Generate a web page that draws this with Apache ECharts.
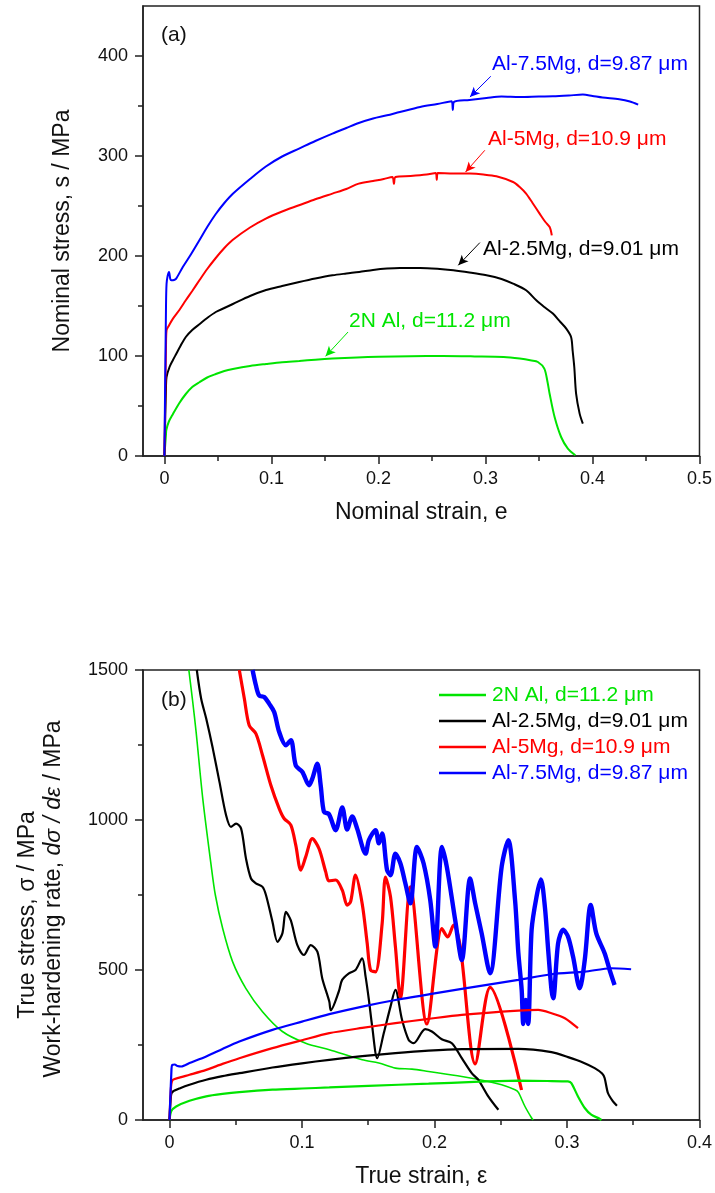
<!DOCTYPE html>
<html><head><meta charset="utf-8">
<script src="https://cdn.jsdelivr.net/npm/echarts@6/dist/echarts.min.js"></script>
<style>html,body{margin:0;padding:0;background:#fff}#c{width:715px;height:1193px}</style>
</head><body><div id="c"></div>
<script>
// ---------- (a) nominal stress-strain curves: [strain, stress MPa] ----------
const a_2N = [[0,0],[0.0015,22],[0.0018,26],[0.004,34],[0.008,42],[0.014,53],[0.020,62],[0.026,69],[0.033,74],[0.040,78.5],[0.048,82],[0.056,85],[0.064,87],[0.080,90],[0.095,92],[0.110,93.8],[0.126,95],[0.141,96.3],[0.157,97.4],[0.18,98.5],[0.20,99.2],[0.23,99.8],[0.26,100],[0.29,99.6],[0.317,99],[0.332,97.4],[0.343,95.5],[0.349,94],[0.355,87.4],[0.358,74],[0.36,62],[0.3646,39],[0.3707,19],[0.377,7.4],[0.384,0.7]];
const a_25Mg = [[0,0],[0.0015,70],[0.002,79],[0.0048,89],[0.008,96],[0.011,102],[0.015,110],[0.020,119],[0.026,126],[0.033,132],[0.040,138],[0.048,144],[0.056,148],[0.064,152],[0.080,160],[0.095,166],[0.110,170],[0.126,174],[0.141,177.5],[0.157,180.7],[0.170,182.5],[0.182,184],[0.195,186],[0.208,187.4],[0.22,188],[0.239,188],[0.255,187.2],[0.27,185.7],[0.285,183.5],[0.301,180.7],[0.315,177],[0.3258,172.4],[0.338,165.7],[0.3475,155.7],[0.355,149],[0.363,142.4],[0.37,134],[0.3755,127.4],[0.38,119],[0.3815,105],[0.383,89],[0.3847,62.4],[0.388,42.4],[0.391,32.4]];
const a_5Mg = [[0,0],[0.0015,110],[0.002,125.7],[0.004,130],[0.008,137.4],[0.014,146],[0.020,155.7],[0.026,165],[0.0327,175.7],[0.040,187],[0.048,198],[0.056,208],[0.0637,216],[0.08,228.5],[0.0948,237.4],[0.11,244.5],[0.1258,250.7],[0.141,256.7],[0.157,262.4],[0.17,267],[0.1816,272.4],[0.195,275],[0.205,277],[0.213,279],[0.2145,272],[0.216,279],[0.23,280],[0.245,281.5],[0.2535,283],[0.2545,276],[0.2555,283],[0.27,282.5],[0.2855,282.4],[0.298,281.5],[0.3102,279.7],[0.3258,274],[0.332,269],[0.338,262.4],[0.344,253],[0.3506,242.4],[0.356,234],[0.36,229],[0.362,220.7]];
const a_75Mg = [[0,0],[0.0015,150],[0.002,172],[0.003,180],[0.0043,184],[0.0055,177],[0.0064,175.7],[0.009,176],[0.011,177.4],[0.0172,189],[0.025,202],[0.0327,215.7],[0.040,229],[0.048,242],[0.056,253],[0.0637,262],[0.08,277],[0.0948,289.5],[0.11,299.5],[0.1258,307.4],[0.141,315],[0.157,322.4],[0.17,328],[0.1816,333],[0.195,337.5],[0.208,340.7],[0.22,344],[0.239,349],[0.255,352],[0.2684,354.7],[0.2695,346],[0.2705,354],[0.285,356],[0.301,358],[0.315,359.5],[0.332,359],[0.35,359.5],[0.363,359.7],[0.378,360.5],[0.391,361.4],[0.40,360],[0.4095,358.4],[0.425,356.7],[0.435,354.5],[0.4427,351.4]];

// ---------- (b) true stress: [true strain, MPa] ----------
const b_2N_stress = [[0,0],[0.0013,29],[0.005,45],[0.0151,64],[0.0277,79],[0.04,87],[0.0527,93],[0.0777,101],[0.1,105],[0.1206,108.5],[0.15,114],[0.1955,121],[0.23,127],[0.2633,131],[0.2850,130],[0.3007,128.5],[0.3033,123],[0.3083,78.5],[0.3134,40],[0.3183,17.6],[0.3246,4.3],[0.326,0]];
const b_25Mg_stress = [[0,0],[0.0012,84],[0.0026,95],[0.008,106],[0.0151,117.5],[0.0277,134],[0.04,146],[0.0527,156],[0.0777,175],[0.1,189],[0.1206,200.7],[0.1455,213],[0.1705,223],[0.1955,231],[0.2206,236],[0.2633,237],[0.2883,226],[0.3008,209.6],[0.312,192],[0.3209,173],[0.3265,155],[0.3284,140],[0.3309,90],[0.3347,62],[0.3377,47.6]];
const b_5Mg_stress = [[0,0],[0.0012,112],[0.0026,134],[0.008,142],[0.0151,150.7],[0.0277,167],[0.04,187],[0.0527,206],[0.0777,239.6],[0.1,266],[0.1206,289.5],[0.1455,307],[0.1705,322.8],[0.1955,337],[0.2206,350.4],[0.2633,364.7],[0.2783,367],[0.2883,356],[0.2984,339.4],[0.3083,306]];
const b_75Mg_stress = [[0,0],[0.0015,170],[0.0021,184],[0.004,185],[0.006,180],[0.0089,178.4],[0.0151,189.7],[0.0277,211.6],[0.04,237],[0.0527,261.6],[0.0777,300.5],[0.1,328],[0.1206,352.7],[0.1455,378],[0.1705,400],[0.2,422],[0.2206,437],[0.2633,467],[0.2883,485.8],[0.3134,494.5],[0.3334,505.8],[0.3484,502.5]];

// ---------- (b) work-hardening rate: [true strain, MPa] ----------
const b_2N_whr = [[0.0146,1500],[0.0175,1395],[0.0201,1293],[0.0251,1071.5],[0.0314,849.6],[0.0346,750],[0.0401,639],[0.0476,528],[0.0576,439],[0.0702,361],[0.0852,295],[0.1028,256],[0.1206,234],[0.1454,200.7],[0.158,189.7],[0.1705,173],[0.183,169.7],[0.1955,161.7],[0.2206,145],[0.2407,128.5],[0.2507,117.5],[0.2608,101],[0.2633,92],[0.2683,45],[0.2733,6.7],[0.2745,0]];
const b_25Mg_whr = [[0.0206,1500],[0.0239,1404],[0.0277,1338],[0.0327,1238],[0.0377,1127],[0.0427,1016],[0.0464,977],[0.0502,988],[0.054,972],[0.0577,872],[0.0615,805],[0.0652,789],[0.0702,777],[0.0728,750],[0.0777,661],[0.0815,594],[0.0852,622],[0.0878,694],[0.0915,666],[0.0965,583],[0.1015,550],[0.1066,583],[0.1116,561],[0.1153,472],[0.1206,395],[0.1217,366],[0.1279,430],[0.1303,467],[0.1354,489],[0.1404,500],[0.1454,539],[0.148,478],[0.1505,400],[0.153,311],[0.1568,206],[0.1617,289],[0.1668,378],[0.1705,434],[0.1755,334],[0.1805,267],[0.1843,256],[0.193,303],[0.198,295],[0.2055,269],[0.2131,256],[0.2206,206],[0.2281,156],[0.2331,134],[0.2407,78],[0.2482,34]];
const b_5Mg_whr = [[0.0527,1500],[0.0565,1404],[0.0602,1315],[0.0652,1288],[0.0702,1216],[0.0765,1116],[0.0828,1038],[0.0865,1005],[0.0916,983],[0.0953,916],[0.0991,833],[0.1028,877],[0.1078,938],[0.1128,905],[0.1179,827],[0.1203,797],[0.1254,800],[0.1304,766],[0.1341,716],[0.1367,728],[0.1404,816],[0.1454,722],[0.1492,589],[0.1517,500],[0.1555,494],[0.1605,655],[0.163,810],[0.1668,744],[0.1705,578],[0.1743,407],[0.1818,777],[0.1943,320],[0.2056,638],[0.21,610],[0.2144,650],[0.2194,580],[0.2307,187],[0.242,442],[0.2657,100]];
const b_75Mg_whr = [[0.0627,1500],[0.0652,1449],[0.0677,1415],[0.0715,1410],[0.0752,1388],[0.079,1360],[0.0828,1293],[0.0878,1249],[0.0916,1266],[0.0953,1182],[0.1003,1160],[0.1053,1116],[0.1078,1138],[0.1116,1188],[0.1141,1116],[0.1166,1027],[0.1203,1020],[0.1254,966],[0.1304,1042],[0.1341,968],[0.1379,1012],[0.1416,972],[0.148,888],[0.1505,933],[0.1555,966],[0.158,922],[0.1605,955],[0.1642,833],[0.1668,816],[0.1705,888],[0.1743,855],[0.178,789],[0.1818,722],[0.1868,910],[0.1918,855],[0.1968,733],[0.2006,578],[0.2056,910],[0.2093,844],[0.2156,667],[0.2206,533],[0.2269,805],[0.2307,722],[0.2356,622],[0.2419,489],[0.2507,844],[0.2557,933],[0.2608,733],[0.2633,556],[0.2658,434],[0.267,320],[0.2688,400],[0.2707,320],[0.2733,634],[0.277,744],[0.2803,802],[0.2833,711],[0.2858,567],[0.2883,434],[0.2896,406],[0.2933,589],[0.2971,634],[0.3008,611],[0.3046,544],[0.3096,439],[0.3134,533],[0.3179,717],[0.3221,622],[0.3284,556],[0.3322,500],[0.3359,450]];

// ---------- labels & ticks ----------
const names = ['2N Al, d=11.2 μm','Al-2.5Mg, d=9.01 μm','Al-5Mg, d=10.9 μm','Al-7.5Mg, d=9.87 μm'];
const colors = ['#00e400','#000000','#ff0000','#0000ff'];
const aXTicks = [0,0.1,0.2,0.3,0.4,0.5];
const aXMinor = [0.05,0.15,0.25,0.35,0.45];
const aYTicks = [0,100,200,300,400];
const aYMinor = [50,150,250,350];
const bXTicks = [0,0.1,0.2,0.3,0.4];
const bXMinor = [0.05,0.15,0.25,0.35];
const bYTicks = [0,500,1000,1500];
const bYMinor = [250,750,1250];
// arrows in (a): [from, to] in data coords
const aArrows = [
  [[0.1716,124],[0.1506,99.7]],
  [[0.2948,213.4],[0.2746,190.7]],
  [[0.2994,305.7],[0.2814,284]],
  [[0.305,379.7],[0.2855,359]]
];

const FONT = "'Liberation Sans', Arial, Helvetica, sans-serif";
const AX = '#222';

function xAx(g, max, ticks, minor, name) {
  return [{
    type:'value', gridIndex:g, min:-0.02, max:max, position:'bottom',
    axisLine:{show:true, onZero:false, lineStyle:{color:AX, width:1.5}},
    axisTick:{show:true, inside:false, length:8, customValues:ticks, lineStyle:{color:AX, width:1.5}},
    axisLabel:{show:true, customValues:ticks, margin:14, fontSize:18, color:'#111', fontFamily:FONT, formatter:v=>String(v)},
    splitLine:{show:false},
    name:name, nameLocation:'middle', nameGap:45,
    nameTextStyle:{fontSize:23, color:'#111', fontFamily:FONT}
  },{
    type:'value', gridIndex:g, min:-0.02, max:max, position:'bottom',
    axisLine:{show:false, onZero:false},
    axisTick:{show:true, inside:false, length:5, customValues:minor, lineStyle:{color:AX, width:1.5}},
    axisLabel:{show:false}, splitLine:{show:false}
  }];
}
function yAx(g, max, ticks, minor) {
  return [{
    type:'value', gridIndex:g, min:0, max:max, position:'left',
    axisLine:{show:true, onZero:false, lineStyle:{color:AX, width:1.5}},
    axisTick:{show:true, inside:false, length:8, customValues:ticks, lineStyle:{color:AX, width:1.5}},
    axisLabel:{show:true, customValues:ticks, margin:15, fontSize:18, color:'#111', fontFamily:FONT, formatter:v=>String(v)},
    splitLine:{show:false}
  },{
    type:'value', gridIndex:g, min:0, max:max, position:'left',
    axisLine:{show:false, onZero:false},
    axisTick:{show:true, inside:false, length:5, customValues:minor, lineStyle:{color:AX, width:1.5}},
    axisLabel:{show:false}, splitLine:{show:false}
  }];
}

const aData = [a_2N, a_25Mg, a_5Mg, a_75Mg];
const bStress = [b_2N_stress, b_25Mg_stress, b_5Mg_stress, b_75Mg_stress];
const bWhr = [b_2N_whr, b_25Mg_whr, b_5Mg_whr, b_75Mg_whr];
const whrWidth = [1.6, 2.2, 3.2, 4.4];

const series = [];
aData.forEach((d,i)=>{
  series.push({
    type:'line', name:'(a) '+names[i], xAxisIndex:0, yAxisIndex:0, data:d,
    showSymbol:false, symbol:'none', color:colors[i], smooth:0.3,
    lineStyle:{color:colors[i], width:2}, clip:true, z:3,
    markLine:{silent:true, symbol:['none','arrow'], symbolSize:[7,10], label:{show:false},
      lineStyle:{color:colors[i], width:1, type:'solid'}, emphasis:{disabled:true},
      data:[[{coord:aArrows[i][0]},{coord:aArrows[i][1]}]]}
  });
});
bStress.forEach((d,i)=>{
  series.push({
    type:'line', name:names[i], xAxisIndex:2, yAxisIndex:2, data:d,
    showSymbol:false, symbol:'none', color:colors[i], smooth:0.25,
    lineStyle:{color:colors[i], width:2.2}, clip:true, z:3
  });
});
bWhr.forEach((d,i)=>{
  series.push({
    type:'line', name:names[i], xAxisIndex:2, yAxisIndex:2, data:d,
    showSymbol:false, symbol:'none', color:colors[i], smooth:0.3,
    lineStyle:{color:colors[i], width:whrWidth[i]}, clip:true, z:2
  });
});

const txt = (text, x, y, color, size, opts={}) => ({
  type:'text', x:x, y:y, rotation:opts.rot||0, z:50, silent:true,
  style:Object.assign({text:text, fill:color, font:(opts.style||'normal')+' '+size+'px '+FONT,
    align:opts.align||'left', verticalAlign:'middle', textAlign:opts.align||'left', textVerticalAlign:'middle'}, opts.extra||{})
});

const option = {
  animation:false,
  backgroundColor:'#fff',
  textStyle:{fontFamily:FONT},
  grid:[
    {left:143, top:6, width:559, height:450, show:true, borderColor:AX, borderWidth:1.5, backgroundColor:'transparent', containLabel:false},
    {left:143, top:670, width:559, height:450, show:true, borderColor:AX, borderWidth:1.5, backgroundColor:'transparent', containLabel:false}
  ],
  xAxis:[...xAx(0,0.5,aXTicks,aXMinor,'Nominal strain, e'), ...xAx(1,0.4,bXTicks,bXMinor,'True strain, ε')],
  yAxis:[...yAx(0,450,aYTicks,aYMinor), ...yAx(1,1500,bYTicks,bYMinor)],
  legend:{
    show:true, orient:'vertical', left:439, top:682, itemWidth:47, itemHeight:2.5, itemGap:0,
    icon:'rect', selectedMode:false, padding:0,
    textStyle:{fontSize:21, fontFamily:FONT, lineHeight:26, padding:[0,0,0,1]},
    data:names.map((n,i)=>({name:n, textStyle:{color:colors[i]}}))
  },
  series:series,
  graphic:[
    txt('(a)', 161, 35, '#111', 21),
    txt('(b)', 161, 700, '#111', 21),
    txt('Al-7.5Mg, d=9.87 μm', 492, 64, colors[3], 21),
    txt('Al-5Mg, d=10.9 μm', 488, 139.5, colors[2], 21),
    txt('Al-2.5Mg, d=9.01 μm', 483, 249.5, colors[1], 21),
    txt('2N Al, d=11.2 μm', 349, 321, colors[0], 21),
    txt('Nominal stress, s / MPa', 62.5, 231, '#111', 23, {rot:Math.PI/2, align:'center'}),
    txt('True stress, σ / MPa', 28, 915, '#111', 23, {rot:Math.PI/2, align:'center'}),
    {type:'text', x:54, y:899, rotation:Math.PI/2, z:50, silent:true,
      style:{text:'{n|Work-hardening rate, }{i|dσ / dε}{n| / MPa}', align:'center', verticalAlign:'middle',
        textAlign:'center', textVerticalAlign:'middle', fill:'#111', font:'23px '+FONT,
        rich:{n:{fontSize:23, fontFamily:FONT, fill:'#111', color:'#111'}, i:{fontSize:23, fontFamily:FONT, fontStyle:'italic', fill:'#111', color:'#111'}}}}
  ]
};
const chart = echarts.init(document.getElementById('c'), null, {renderer:'canvas'});
chart.setOption(option);
</script></body></html>
